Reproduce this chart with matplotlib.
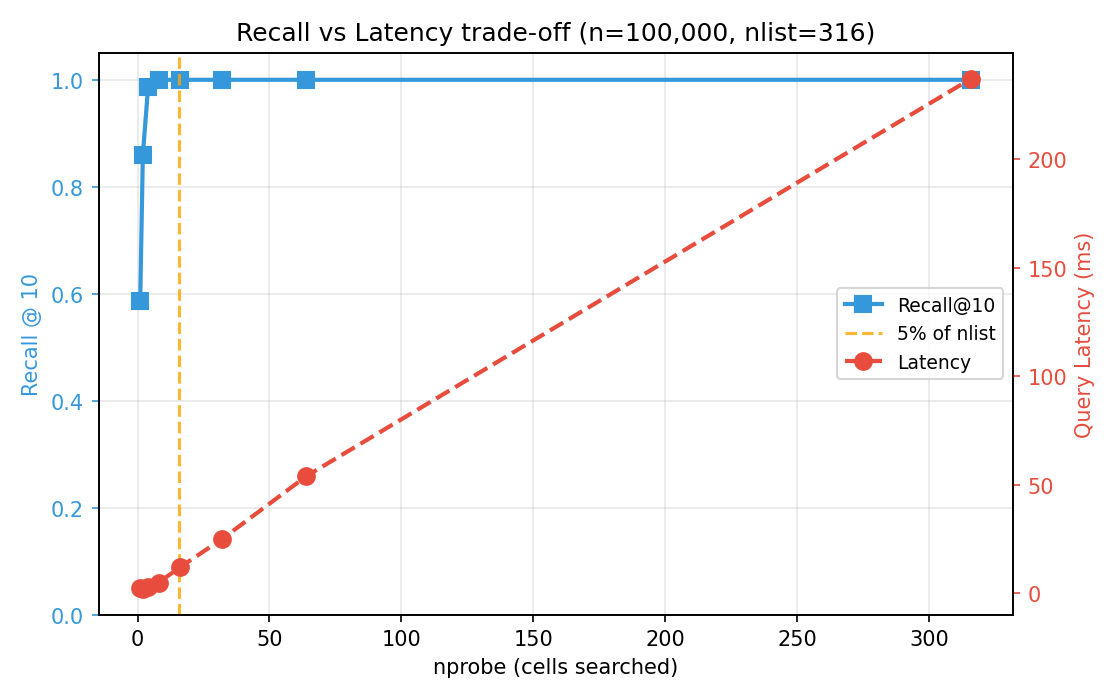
import numpy as np
import matplotlib
matplotlib.use("Agg")
import matplotlib.pyplot as plt

nlist = 316
nprobe = [1, 2, 4, 8, 16, 32, 64, 316]
recall = [0.587, 0.86, 0.987, 1.0, 1.0, 1.0, 1.0, 1.0]
latency = [2.5, 2.0, 3.0, 5.0, 12.0, 25.0, 54.0, 237.0]

blue = "#3498db"
red = "#e74c3c"

fig, ax1 = plt.subplots(figsize=(7.453, 4.673), dpi=150)

l1, = ax1.plot(nprobe, recall, "s-", color=blue, lw=2, ms=8, label="Recall@10")
l2 = ax1.axvline(nlist * 0.05, color="orange", ls="--", alpha=0.8, label="5% of nlist")
ax1.set_ylim(0, 1.05)
ax1.set_xlabel("nprobe (cells searched)")
ax1.set_ylabel("Recall @ 10", color=blue)
ax1.tick_params(axis="y", colors=blue)
ax1.grid(True, alpha=0.3)

ax2 = ax1.twinx()
l3, = ax2.plot(nprobe, latency, "o--", color=red, lw=2, ms=8, label="Latency")
ax2.set_ylabel("Query Latency (ms)", color=red)
ax2.tick_params(axis="y", colors=red)

ax1.legend([l1, l2, l3], [l.get_label() for l in [l1, l2, l3]], loc="center right", fontsize=9)
ax1.set_title("Recall vs Latency trade-off (n=100,000, nlist=316)")

fig.tight_layout()
fig.savefig("out.png")
